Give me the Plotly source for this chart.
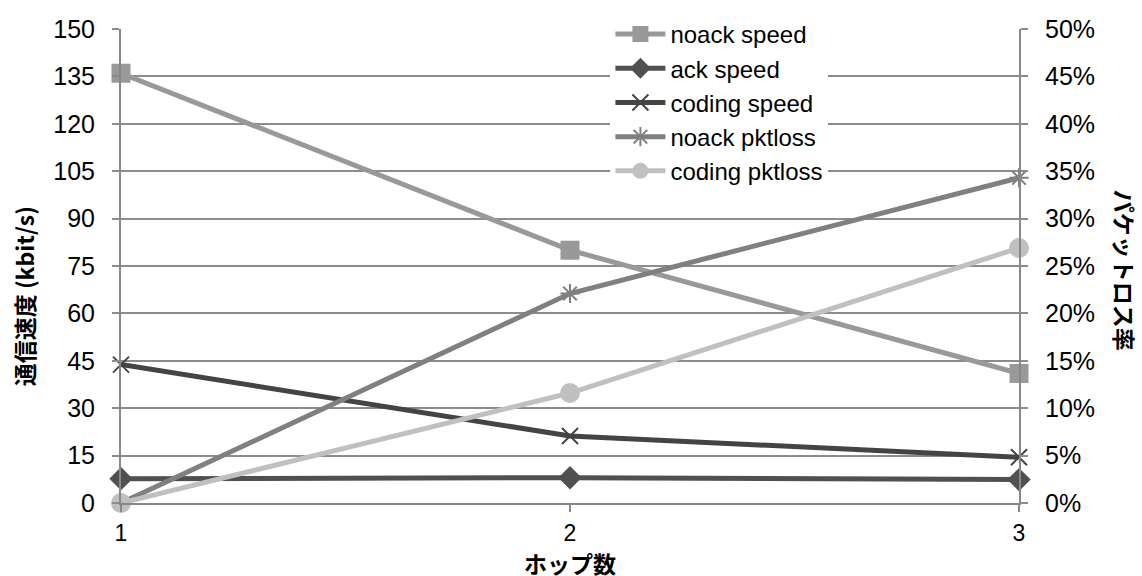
import plotly.graph_objects as go

hops = [1, 2, 3]
noack_speed = [136, 80, 41]
ack_speed = [7.7, 8.0, 7.4]
coding_speed = [43.8, 21.2, 14.5]
noack_pktloss = [0.0, 0.221, 0.343]
coding_pktloss = [0.0, 0.116, 0.269]

left_ticks = list(range(0, 151, 15))
right_ticks = [i / 100 for i in range(0, 51, 5)]

FONT = "Liberation Sans, Arial, Noto Sans CJK JP, sans-serif"
JFONT = "Noto Sans CJK JP, Liberation Sans, sans-serif"

fig = go.Figure()

def add(name, y, color, symbol, msize, axis, mline=None):
    marker = dict(symbol=symbol, size=msize, color=color)
    if mline:
        marker["line"] = dict(color=color, width=mline)
    fig.add_trace(go.Scatter(
        x=hops, y=y, name=name, mode="lines+markers",
        line=dict(color=color, width=5),
        marker=marker, yaxis=axis, cliponaxis=False,
    ))

add("noack speed", noack_speed, "#999999", "square", 19, "y")
add("ack speed", ack_speed, "#505050", "diamond", 18, "y")
add("coding speed", coding_speed, "#444444", "x-thin", 16, "y", 2)
add("noack pktloss", noack_pktloss, "#808080", "asterisk", 16, "y2", 2)
add("coding pktloss", coding_pktloss, "#c0c0c0", "circle", 20, "y2")

fig.update_layout(
    width=1142, height=576,
    margin=dict(l=121, r=123, t=25, b=73),
    plot_bgcolor="white", paper_bgcolor="white",
    font=dict(family=FONT, size=25, color="#000000"),
    showlegend=True,
    legend=dict(
        x=0.545, y=1.036, xanchor="left", yanchor="top",
        bgcolor="white", borderwidth=0,
        font=dict(size=24, family=FONT),
        itemwidth=50, tracegroupgap=0,
    ),
    xaxis=dict(
        range=[1, 3], tickvals=hops, ticktext=[str(h) for h in hops],
        showgrid=False, showline=True, linecolor="#888888", linewidth=2,
        ticks="outside", ticklen=7, tickcolor="#888888", tickwidth=2,
        zeroline=False, tickfont=dict(size=23), ticklabelstandoff=1,
    ),
    yaxis=dict(
        range=[0, 150], tickvals=left_ticks,
        showgrid=True, gridcolor="#8c8c8c", gridwidth=1.5,
        showline=True, linecolor="#888888", linewidth=2,
        ticks="outside", ticklen=7, tickcolor="#8c8c8c", tickwidth=1.5,
        zeroline=False, tickfont=dict(size=25), ticklabelstandoff=12,
    ),
    yaxis2=dict(
        range=[0, 0.5], tickvals=right_ticks, tickformat=".0%",
        overlaying="y", side="right", showgrid=False,
        showline=True, linecolor="#888888", linewidth=2,
        ticks="outside", ticklen=7, tickcolor="#8c8c8c", tickwidth=1.5,
        zeroline=False, tickfont=dict(size=25), ticklabelstandoff=12,
    ),
    annotations=[
        dict(text="<b>通信速度 (kbit/s)</b>", xref="paper", yref="paper",
             x=0, y=0.436, xshift=-97, textangle=-90, showarrow=False,
             xanchor="center", yanchor="middle",
             font=dict(size=23, family=JFONT)),
        dict(text="<b>パケットロス率</b>", xref="paper", yref="paper",
             x=1, y=0.492, xshift=106, textangle=90, showarrow=False,
             xanchor="center", yanchor="middle",
             font=dict(size=23, family=JFONT)),
        dict(text="<b>ホップ数</b>", xref="paper", yref="paper",
             x=0.5, y=0, yshift=-60, showarrow=False,
             xanchor="center", yanchor="middle",
             font=dict(size=23, family=JFONT)),
    ],
)

fig.write_html("out.html")
